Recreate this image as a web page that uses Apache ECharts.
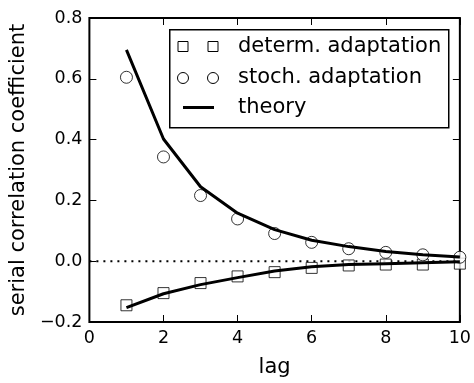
<!DOCTYPE html>
<html>
<head>
<meta charset="utf-8">
<script src="https://cdn.jsdelivr.net/npm/echarts@6/dist/echarts.min.js"></script>
<style>html,body{margin:0;padding:0;background:#fff;}#c{width:474px;height:383px;}</style>
</head>
<body>
<div id="c"></div>
<script>
const lags = [1, 2, 3, 4, 5, 6, 7, 8, 9, 10];
const determData = [-0.145, -0.105, -0.072, -0.050, -0.036, -0.022, -0.014, -0.011, -0.011, -0.008];
const stochData = [0.605, 0.343, 0.216, 0.139, 0.091, 0.062, 0.041, 0.029, 0.021, 0.013];
const theoryStoch = [0.695, 0.402, 0.245, 0.158, 0.104, 0.069, 0.048, 0.032, 0.021, 0.014];
const theoryDeterm = [-0.153, -0.107, -0.077, -0.054, -0.032, -0.018, -0.011, -0.008, -0.005, -0.002];
const xTicks = [0, 2, 4, 6, 8, 10];
const yTicks = [-0.2, 0.0, 0.2, 0.4, 0.6, 0.8];
const legendNames = ['determ. adaptation', 'stoch. adaptation', 'theory'];

const FONT = 'DejaVu Sans';
const pair = (xs, ys) => xs.map((x, i) => [x, ys[i]]);
const fmtY = v => v.toFixed(1).replace('-', '\u2212');

const chart = echarts.init(document.getElementById('c'), null, {renderer: 'canvas'});
const axisCommon = {
  type: 'value',
  axisLine: {show: false, onZero: false},
  axisTick: {show: true, inside: true, length: 7, lineStyle: {color: '#000', width: 1}},
  splitLine: {show: false}
};
const option = {
  animation: false,
  backgroundColor: '#fff',
  grid: {left: 89, right: 14, top: 18, bottom: 54, show: true, borderColor: '#000', borderWidth: 2, backgroundColor: 'transparent'},
  xAxis: [
    Object.assign({}, axisCommon, {
      min: 0, max: 10, interval: 2, position: 'bottom',
      name: 'lag', nameLocation: 'middle', nameGap: 35,
      nameTextStyle: {fontFamily: FONT, fontSize: 21, color: '#000'},
      axisLabel: {fontFamily: FONT, fontSize: 17.5, color: '#000', margin: 7}
    }),
    Object.assign({}, axisCommon, {min: 0, max: 10, interval: 2, position: 'top', axisLabel: {show: false}})
  ],
  yAxis: [
    Object.assign({}, axisCommon, {
      min: -0.2, max: 0.8, interval: 0.2, position: 'left',
      name: 'serial correlation coefficient', nameLocation: 'middle', nameGap: 60,
      nameTextStyle: {fontFamily: FONT, fontSize: 21, color: '#000'},
      axisLabel: {fontFamily: FONT, fontSize: 17.5, color: '#000', margin: 7, formatter: fmtY}
    }),
    Object.assign({}, axisCommon, {min: -0.2, max: 0.8, interval: 0.2, position: 'right', axisLabel: {show: false}})
  ],
  series: [
    {
      type: 'line', data: [[0, 0], [10, 0]], symbol: 'none', silent: true, z: 1,
      lineStyle: {color: '#000', width: 2, type: [2, 5]}
    },
    {
      name: legendNames[0], type: 'scatter', data: pair(lags, determData), symbol: 'rect', symbolSize: 11, z: 2,
      itemStyle: {color: '#fff', borderColor: '#000', borderWidth: 1}
    },
    {
      name: legendNames[1], type: 'scatter', data: pair(lags, stochData), symbol: 'circle', symbolSize: 12, z: 2,
      itemStyle: {color: '#fff', borderColor: '#000', borderWidth: 1}
    },
    {
      name: legendNames[2], type: 'line', data: pair(lags, theoryStoch), symbol: 'none', z: 3,
      lineStyle: {color: '#000', width: 3}
    },
    {
      name: legendNames[2] + '2', type: 'line', data: pair(lags, theoryDeterm), symbol: 'none', z: 3,
      lineStyle: {color: '#000', width: 3}
    }
  ],
  graphic: [
    {type: 'rect', left: 169, top: 29, z: 100, shape: {width: 279, height: 98},
     style: {fill: '#fff', stroke: '#000', lineWidth: 1.5}},
    {type: 'rect', z: 101, shape: {x: 178, y: 41.5, width: 10, height: 10}, style: {fill: '#fff', stroke: '#000', lineWidth: 1}},
    {type: 'rect', z: 101, shape: {x: 208, y: 41.5, width: 10, height: 10}, style: {fill: '#fff', stroke: '#000', lineWidth: 1}},
    {type: 'circle', z: 101, shape: {cx: 183, cy: 78, r: 5.5}, style: {fill: '#fff', stroke: '#000', lineWidth: 1}},
    {type: 'circle', z: 101, shape: {cx: 213, cy: 78, r: 5.5}, style: {fill: '#fff', stroke: '#000', lineWidth: 1}},
    {type: 'line', z: 101, shape: {x1: 183, y1: 107.5, x2: 214, y2: 107.5}, style: {stroke: '#000', lineWidth: 3}},
    {type: 'text', z: 101, x: 238, y: 46.5, style: {text: legendNames[0], fontFamily: FONT, fontSize: 21, fill: '#000', verticalAlign: 'middle'}},
    {type: 'text', z: 101, x: 238, y: 77.5, style: {text: legendNames[1], fontFamily: FONT, fontSize: 21, fill: '#000', verticalAlign: 'middle'}},
    {type: 'text', z: 101, x: 238, y: 107.5, style: {text: legendNames[2], fontFamily: FONT, fontSize: 21, fill: '#000', verticalAlign: 'middle'}}
  ]
};
chart.setOption(option);
</script>
</body>
</html>
